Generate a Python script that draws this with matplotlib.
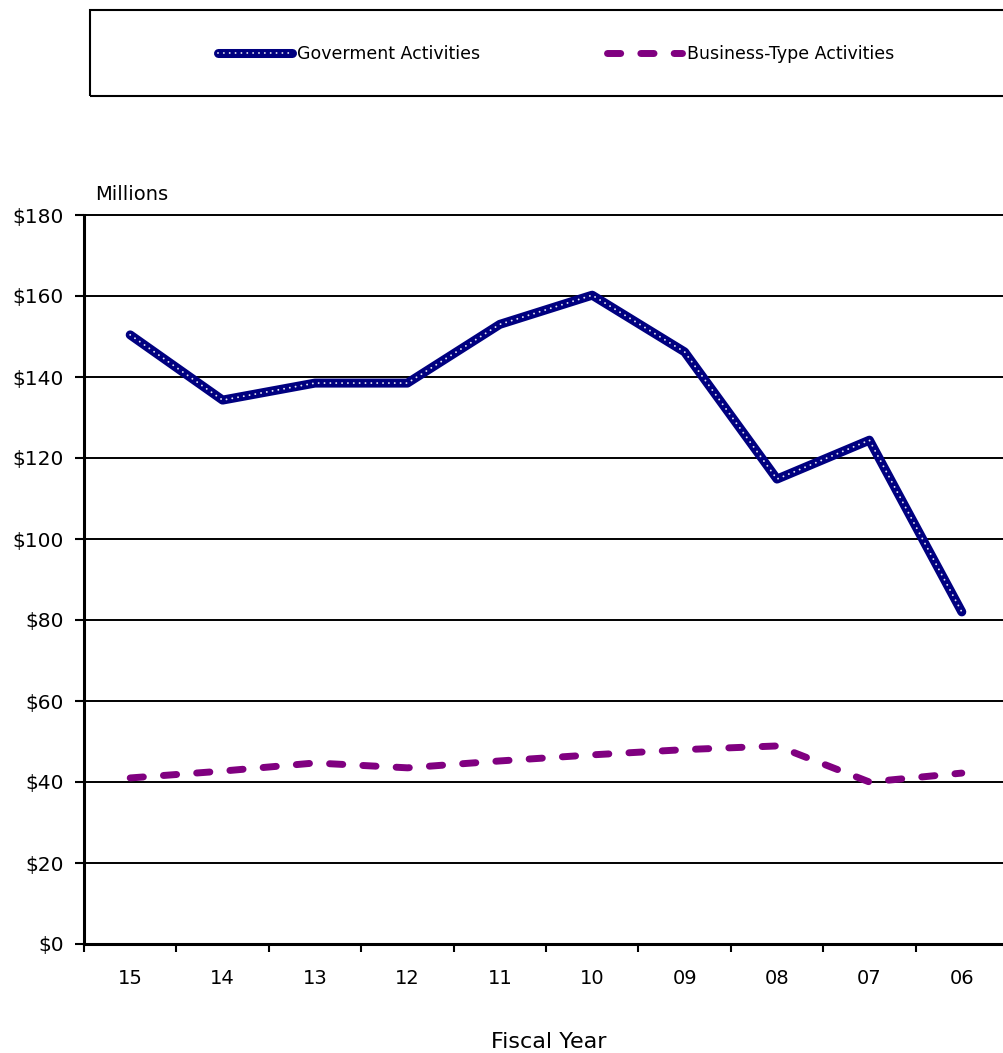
import numpy as np
import matplotlib
matplotlib.use("Agg")
import matplotlib.pyplot as plt
from matplotlib.patches import Rectangle
from matplotlib.legend_handler import HandlerTuple

plt.rcParams["font.family"] = ["DejaVu Sans"]

years = ["15", "14", "13", "12", "11", "10", "09", "08", "07", "06"]
gov = [150.4, 134.3, 138.5, 138.5, 153.0, 160.2, 146.2, 114.8, 124.4, 82.0]
business = [41.0, 42.7, 44.7, 43.5, 45.2, 46.7, 48.0, 48.9, 40.0, 42.2]
yticks = np.arange(0, 181, 20)

fig = plt.figure(figsize=(10.04, 10.53), dpi=100)
ax = fig.add_axes([84 / 1004, 109 / 1053, 924 / 1004, 729 / 1053])

x = np.arange(len(years))
g1, = ax.plot(x, gov, color="#000080", lw=6.5, solid_capstyle="round",
              solid_joinstyle="round", zorder=3)
g2, = ax.plot(x, gov, color="white", lw=1.4, linestyle=(0, (0.01, 3.0)),
              dash_capstyle="round", alpha=0.9, zorder=4)
b1, = ax.plot(x, business, color="#800080", lw=5, linestyle=(0, (1.9, 2.9)),
              dash_capstyle="round", zorder=3)

ax.set_xlim(-0.5, len(years) - 0.5)
ax.set_ylim(0, 180)
ax.set_yticks(yticks)
ax.set_yticklabels(["$%d" % v for v in yticks], fontsize=14.5)
ax.set_xticks(x)
ax.set_xticklabels(years, fontsize=14)
ax.set_xticks(np.arange(-0.5, len(years), 1), minor=True)
ax.tick_params(axis="x", which="major", length=0, pad=18)
ax.tick_params(axis="x", which="minor", length=6, width=1.5, direction="out")
ax.tick_params(axis="y", length=6.5, width=1.5, direction="out", pad=8)
ax.grid(axis="y", color="black", lw=1.4)
for gl in ax.get_ygridlines():
    gl.set_clip_on(False)
ax.set_axisbelow(True)
for s in ["top", "right"]:
    ax.spines[s].set_visible(False)
ax.spines["left"].set_linewidth(2.2)
ax.spines["bottom"].set_linewidth(2.2)
ax.spines["left"].set_zorder(5)
ax.spines["bottom"].set_zorder(5)

fig.text(95 / 1004, 1 - 195 / 1053, "Millions", fontsize=14, va="center", ha="left")
fig.text(549 / 1004, 1 - 1042 / 1053, "Fiscal Year", fontsize=16, va="center", ha="center")

fig.patches.append(Rectangle((90 / 1004, 1 - 96 / 1053), 930 / 1004, 86 / 1053,
                             transform=fig.transFigure, fill=False, lw=1.5,
                             edgecolor="black"))
fig.legend([(g1, g2), b1], ["Goverment Activities", "Business-Type Activities"],
           handler_map={tuple: HandlerTuple(ndivide=1, pad=0)},
           loc="center", bbox_to_anchor=(556 / 1004, 1 - 54 / 1053), ncol=2,
           frameon=False, fontsize=12.5, handlelength=4.3, handletextpad=0.3,
           columnspacing=7.3)

fig.savefig("out.png", dpi=100)
